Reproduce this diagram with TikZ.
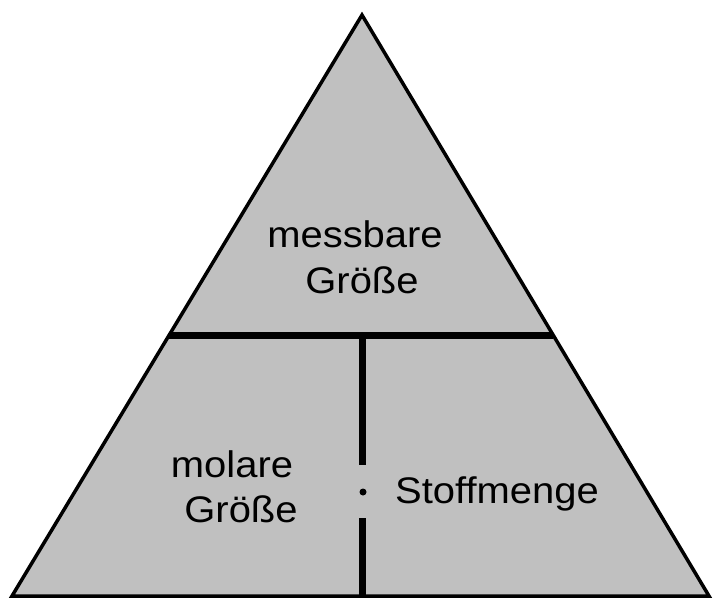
\documentclass[tikz,border=0pt]{standalone}
\usepackage{fontspec}
\setmainfont[FakeStretch=1.08]{Liberation Sans}
\begin{document}
\begin{tikzpicture}[x=1pt,y=-1pt,
  lbl/.style={anchor=base,inner sep=0pt,font=\fontsize{37}{44}\selectfont},
  outline/.style={line width=3.5pt,line join=miter},
  divider/.style={line width=7pt}]
\useasboundingbox (0,0) rectangle (713,600);
\coordinate (apex) at (362,15);
\coordinate (bl) at (12,596);
\coordinate (br) at (709,596);
\coordinate (hl) at (169,335);
\coordinate (hr) at (553,335);
\coordinate (vt) at (362,335);
\coordinate (vg1) at (362,465);
\coordinate (vg2) at (362,518);
\coordinate (vb) at (362,596);
\fill[fill={rgb,255:red,192;green,192;blue,192}] (apex) -- (bl) -- (br) -- cycle;
\draw[outline] (apex) -- (bl) -- (br) -- cycle;
\draw[divider] (hl) -- (hr);
\draw[divider] (vt) -- (vg1);
\draw[divider] (vg2) -- (vb);
\fill (363,492) circle (3.5);
\node[lbl] (m1) at (355,247) {messbare};
\node[lbl] (m2) at (362,293) {Größe};
\node[lbl] (l1) at (232,477) {molare};
\node[lbl] (l2) at (241,522) {Größe};
\node[lbl] (s) at (497,503) {Stoffmenge};
\end{tikzpicture}
\end{document}
